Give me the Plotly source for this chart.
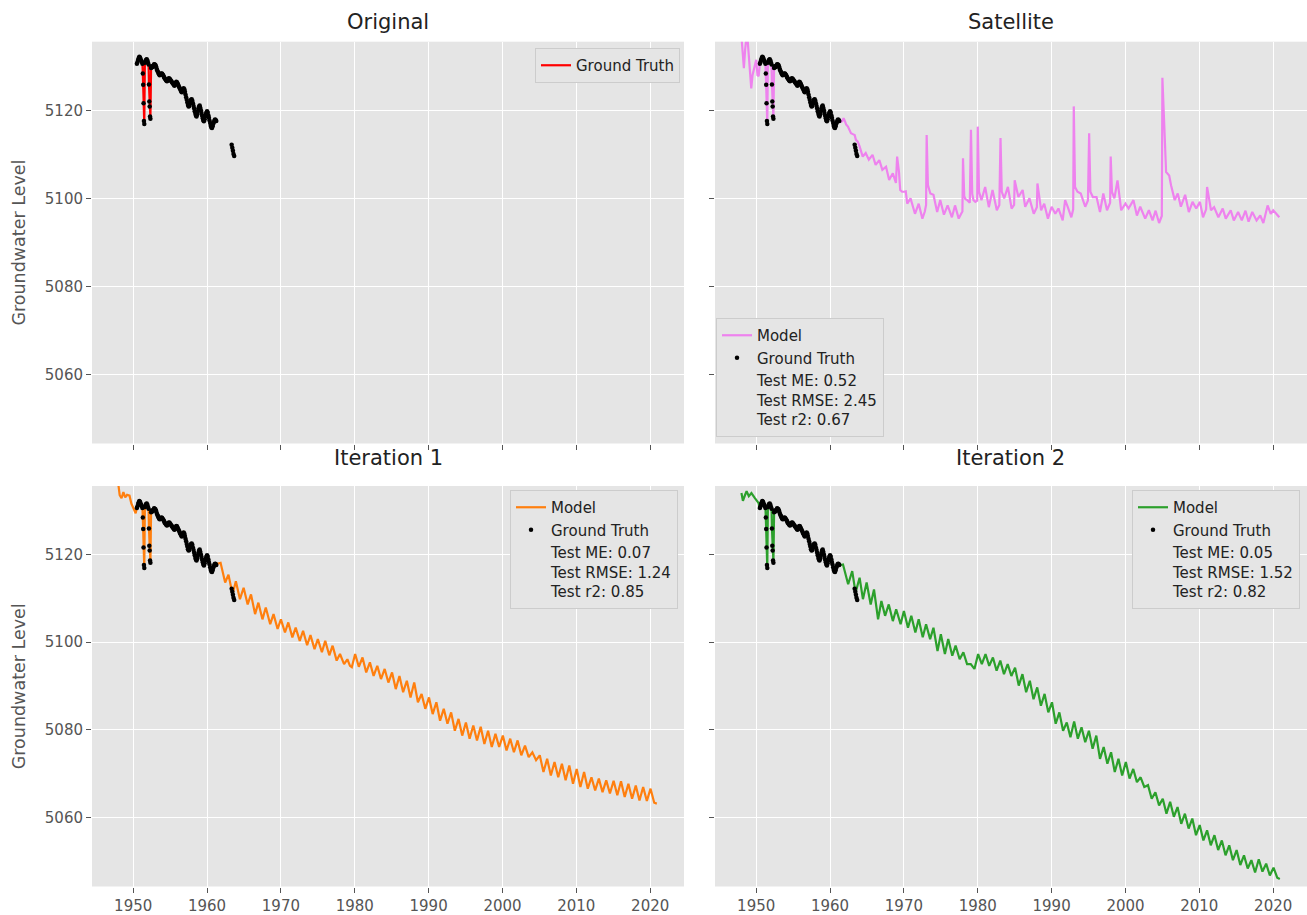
import plotly.graph_objects as go

# ---------------------------------------------------------------
# Ground-truth well readings (decimal year, groundwater level)
# ---------------------------------------------------------------
gt_years = [
    1950.50, 1950.58, 1950.67, 1950.75, 1950.83, 1950.92, 1951.00, 1951.08,
    1951.17, 1951.25, 1951.30, 1951.35, 1951.40, 1951.45, 1951.50, 1951.58,
    1951.67, 1951.75, 1951.83, 1951.92, 1952.00, 1952.08, 1952.13, 1952.18,
    1952.23, 1952.28, 1952.33, 1952.42, 1952.50, 1952.58, 1952.67, 1952.75,
    1952.83, 1952.92,
    1953.00, 1953.08, 1953.17, 1953.25, 1953.33, 1953.42, 1953.50, 1953.58,
    1953.67, 1953.75, 1953.83, 1953.92,
    1954.00, 1954.08, 1954.17, 1954.25, 1954.33, 1954.42, 1954.50, 1954.58,
    1954.67, 1954.75, 1954.83, 1954.92,
    1955.00, 1955.08, 1955.17, 1955.25, 1955.33, 1955.42, 1955.50, 1955.58,
    1955.67, 1955.75, 1955.83, 1955.92,
    1956.00, 1956.08, 1956.17, 1956.25, 1956.33, 1956.42, 1956.50, 1956.58,
    1956.67, 1956.75, 1956.83, 1956.92,
    1957.00, 1957.08, 1957.17, 1957.25, 1957.33, 1957.42, 1957.50, 1957.58,
    1957.67, 1957.75, 1957.83, 1957.92,
    1958.00, 1958.08, 1958.17, 1958.25, 1958.33, 1958.42, 1958.50, 1958.58,
    1958.67, 1958.75, 1958.83, 1958.92,
    1959.00, 1959.08, 1959.17, 1959.25, 1959.33, 1959.42, 1959.50, 1959.58,
    1959.67, 1959.75, 1959.83, 1959.92,
    1960.00, 1960.08, 1960.17, 1960.25, 1960.33, 1960.42, 1960.50, 1960.58,
    1960.67, 1960.75, 1960.83, 1960.92,
    1961.00, 1961.08, 1961.17, 1961.25,
]
gt_levels = [
    5130.6, 5131.0, 5131.5, 5131.9, 5132.2, 5132.0, 5131.6, 5131.3,
    5131.0, 5130.6, 5128.4, 5125.8, 5121.6, 5117.6, 5116.9, 5130.8,
    5131.2, 5131.5, 5131.6, 5131.3, 5130.8, 5130.4, 5125.9, 5122.0,
    5120.9, 5118.6, 5118.1, 5129.6, 5130.0, 5129.8, 5129.9, 5130.2,
    5130.5, 5130.4,
    5130.3, 5130.0, 5129.5, 5129.1, 5128.8, 5128.5, 5128.2, 5128.0,
    5128.1, 5128.3, 5128.4, 5128.3,
    5128.1, 5127.9, 5127.6, 5127.3, 5127.1, 5126.9, 5126.7, 5126.6,
    5126.8, 5127.1, 5127.3, 5127.2,
    5127.0, 5126.8, 5126.6, 5126.4, 5126.2, 5126.0, 5125.8, 5125.6,
    5125.8, 5126.2, 5126.5, 5126.4,
    5126.1, 5125.8, 5125.5, 5125.2, 5124.9, 5124.6, 5124.3, 5124.1,
    5124.4, 5124.8, 5125.0, 5124.8,
    5124.2, 5123.6, 5123.0, 5122.4, 5121.8, 5121.2, 5120.9, 5121.0,
    5121.5, 5122.0, 5122.4, 5122.5,
    5122.2, 5121.6, 5121.0, 5120.4, 5119.8, 5119.2, 5118.8, 5118.6,
    5119.1, 5119.8, 5120.4, 5120.9,
    5121.1, 5120.6, 5120.0, 5119.4, 5118.8, 5118.2, 5117.7, 5117.5,
    5118.0, 5118.6, 5119.1, 5119.5,
    5119.8, 5119.5, 5118.9, 5118.3, 5117.7, 5117.1, 5116.5, 5116.1,
    5116.0, 5116.4, 5116.9, 5117.3,
    5117.7, 5117.9, 5117.8, 5117.6,
]
# short later run of readings after a gap
gt_late_years = [1963.33, 1963.42, 1963.50, 1963.58, 1963.67]
gt_late_levels = [5112.2, 5111.5, 5110.8, 5110.1, 5109.6]

# ---------------------------------------------------------------
# Model predictions outside the ground-truth period
# ---------------------------------------------------------------
sat_pre_years = [1948.00, 1948.17, 1948.33, 1948.50, 1948.67, 1948.83, 1949.00,
                 1949.17, 1949.33, 1949.50, 1949.67, 1949.83, 1950.00, 1950.17,
                 1950.33]
sat_pre_levels = [5136.8, 5132.2, 5129.6, 5133.8, 5136.5, 5136.2, 5131.5,
                  5127.0, 5125.0, 5128.0, 5129.2, 5131.0, 5131.5, 5128.0,
                  5127.8]
sat_post_years = [
    1961.33, 1961.50, 1961.67, 1961.83, 1962.00, 1962.17, 1962.42, 1962.58,
    1962.83, 1963.08, 1963.33, 1963.50, 1963.75, 1964.00, 1964.42, 1964.83,
    1965.25, 1965.75, 1966.17, 1966.67, 1967.08, 1967.58, 1968.00, 1968.50,
    1968.92, 1969.08, 1969.33, 1969.50, 1969.75, 1970.00, 1970.25, 1970.45,
    1970.90, 1971.50, 1972.00, 1972.50, 1972.83, 1973.00, 1973.08, 1973.25,
    1973.58, 1974.00, 1974.50, 1974.92, 1975.42, 1975.92, 1976.50, 1976.92,
    1977.42, 1977.75, 1977.92, 1978.00, 1978.17, 1978.33, 1978.58, 1978.92,
    1979.08, 1979.25, 1979.42, 1979.67, 1979.92, 1980.00, 1980.17, 1980.50,
    1981.00, 1981.50, 1982.00, 1982.58, 1982.92, 1983.08, 1983.25, 1983.58,
    1984.08, 1984.58, 1984.92, 1985.00, 1985.50, 1986.08, 1986.42, 1987.00,
    1987.58, 1988.00, 1988.08, 1988.58, 1989.00, 1989.50, 1990.00, 1990.50,
    1990.92, 1991.50, 1991.83, 1992.17, 1992.67, 1992.92, 1993.00, 1993.17,
    1993.50, 1993.95, 1994.55, 1994.92, 1995.08, 1995.25, 1995.58, 1996.08,
    1996.55, 1997.00, 1997.50, 1997.92, 1998.00, 1998.17, 1998.50, 1998.92,
    1999.42, 2000.00, 2000.42, 2001.08, 2001.55, 2002.00, 2002.67, 2003.17,
    2003.67, 2004.08, 2004.55, 2004.92, 2005.00, 2005.50, 2005.92, 2006.17,
    2006.67, 2007.08, 2007.50, 2008.08, 2008.58, 2009.08, 2009.58, 2010.08,
    2010.50, 2010.92, 2011.05, 2011.58, 2012.00, 2012.58, 2013.17, 2013.58,
    2014.25, 2014.67, 2015.25, 2015.75, 2016.25, 2016.67, 2017.17, 2017.75,
    2018.25, 2018.67, 2019.25, 2019.67, 2020.00, 2020.42, 2020.83,
]
sat_post_levels = [
    5117.8, 5117.4, 5117.6, 5118.2, 5117.6, 5116.8, 5116.3, 5115.6,
    5114.8, 5114.6, 5114.4, 5113.3, 5112.9, 5111.8, 5109.5, 5110.3,
    5108.8, 5109.9, 5107.6, 5108.7, 5106.5, 5107.2, 5104.2, 5105.7,
    5103.5, 5109.5, 5106.0, 5101.9, 5101.5, 5101.5, 5101.6, 5098.8,
    5100.0, 5096.5, 5098.8, 5095.4, 5097.0, 5098.5, 5114.4, 5103.0,
    5101.1, 5100.8, 5096.9, 5099.6, 5096.3, 5098.4, 5095.7, 5098.4,
    5095.4, 5096.5, 5097.0, 5109.1, 5100.5, 5099.8, 5099.6, 5099.0,
    5115.6, 5101.0, 5099.6, 5099.2, 5099.5, 5116.3, 5101.5, 5099.6,
    5102.6, 5098.0, 5101.9, 5097.3, 5098.5, 5113.7, 5101.5, 5100.0,
    5102.6, 5097.7, 5098.5, 5104.1, 5100.3, 5101.9, 5098.1, 5100.0,
    5096.5, 5098.0, 5103.4, 5097.3, 5098.8, 5095.4, 5098.1, 5096.5,
    5097.7, 5095.0, 5099.6, 5098.1, 5095.7, 5097.5, 5120.9, 5102.6,
    5101.5, 5101.1, 5098.1, 5099.5, 5114.8, 5101.5, 5100.3, 5100.3,
    5096.9, 5101.1, 5097.3, 5099.0, 5109.5, 5101.5, 5100.0, 5104.1,
    5097.3, 5098.8, 5097.7, 5099.6, 5096.1, 5098.1, 5095.4, 5097.3,
    5095.0, 5097.2, 5094.4, 5096.0, 5127.4, 5106.0, 5105.2, 5103.0,
    5099.6, 5101.1, 5098.1, 5100.8, 5096.9, 5099.2, 5097.7, 5099.2,
    5095.7, 5097.5, 5102.6, 5097.3, 5098.0, 5095.7, 5097.7, 5095.4,
    5097.3, 5095.0, 5096.9, 5095.0, 5097.2, 5094.7, 5096.9, 5095.0,
    5096.1, 5094.4, 5098.4, 5096.5, 5097.3, 5096.5, 5095.7,
]

it1_pre_years = [1948.00, 1948.17, 1948.42, 1948.67, 1948.92, 1949.17, 1949.50,
                 1949.75, 1950.17, 1950.33]
it1_pre_levels = [5135.8, 5133.5, 5132.8, 5134.2, 5133.0, 5133.6, 5133.4,
                  5131.6, 5130.0, 5129.4]
it1_post_years = [
    1961.42, 1961.83, 1962.45, 1962.90, 1963.45, 1963.90, 1964.45, 1964.95,
    1965.50, 1965.95, 1966.50, 1966.95, 1967.50, 1967.95, 1968.55, 1969.00,
    1969.55, 1970.00, 1970.55, 1971.00, 1971.55, 1972.00, 1972.55, 1973.00,
    1973.55, 1974.00, 1974.55, 1975.00, 1975.55, 1976.00, 1976.55, 1977.00,
    1977.55, 1978.00, 1978.55, 1979.00, 1979.35, 1979.60, 1980.05, 1980.55,
    1981.05, 1981.55, 1982.05, 1982.55, 1983.05, 1983.55, 1984.05, 1984.55,
    1985.05, 1985.55, 1986.05, 1986.55, 1987.05, 1987.55, 1988.05, 1988.55,
    1989.05, 1989.55, 1990.05, 1990.55, 1991.05, 1991.55, 1992.05, 1992.55,
    1993.05, 1993.55, 1994.05, 1994.55, 1995.05, 1995.55, 1996.05, 1996.55,
    1997.05, 1997.55, 1998.05, 1998.55, 1999.05, 1999.55, 2000.05, 2000.55,
    2001.05, 2001.55, 2002.05, 2002.55, 2003.05, 2003.55, 2004.05, 2004.55,
    2005.05, 2005.55, 2006.05, 2006.55, 2007.05, 2007.55, 2008.05, 2008.55,
    2009.05, 2009.55, 2010.05, 2010.55, 2011.05, 2011.55, 2012.05, 2012.55,
    2013.05, 2013.55, 2014.05, 2014.55, 2015.05, 2015.55, 2016.05, 2016.55,
    2017.05, 2017.55, 2018.05, 2018.55, 2019.05, 2019.55, 2020.05, 2020.55,
    2020.90,
]
it1_post_levels = [
    5117.9, 5118.1, 5113.6, 5115.4, 5110.9, 5113.9, 5109.8, 5112.4,
    5108.6, 5110.9, 5106.4, 5109.0, 5105.2, 5107.9, 5104.1, 5106.4,
    5103.0, 5105.2, 5102.2, 5104.5, 5101.1, 5103.3, 5100.3, 5102.6,
    5099.3, 5101.6, 5098.4, 5100.7, 5097.7, 5100.3, 5097.0, 5099.2,
    5095.8, 5097.3, 5095.0, 5096.1, 5094.6, 5094.3, 5097.3, 5094.4,
    5096.5, 5093.1, 5095.4, 5092.3, 5094.6, 5091.6, 5093.9, 5090.8,
    5093.1, 5089.3, 5092.3, 5088.6, 5091.2, 5087.4, 5090.8, 5086.3,
    5088.2, 5084.8, 5087.4, 5083.6, 5086.3, 5082.1, 5084.8, 5081.4,
    5084.0, 5079.8, 5082.5, 5078.7, 5081.7, 5078.0, 5081.0, 5077.6,
    5080.7, 5076.8, 5079.8, 5076.1, 5079.1, 5076.1, 5078.7, 5075.3,
    5078.0, 5074.9, 5077.6, 5074.2, 5076.4, 5073.8, 5074.9, 5073.1,
    5074.2, 5070.4, 5073.4, 5069.6, 5072.7, 5069.2, 5072.3, 5068.5,
    5071.9, 5067.7, 5071.1, 5067.0, 5070.4, 5066.6, 5069.2, 5066.2,
    5068.9, 5065.8, 5068.5, 5065.5, 5068.4, 5065.1, 5068.3, 5064.7,
    5067.7, 5064.3, 5067.3, 5063.9, 5067.0, 5063.8, 5066.6, 5063.4,
    5063.2,
]

it2_pre_years = [1948.00, 1948.20, 1948.50, 1948.70, 1949.00, 1949.35, 1949.80,
                 1950.17, 1950.33]
it2_pre_levels = [5134.0, 5132.2, 5133.6, 5134.4, 5133.3, 5134.0, 5132.9,
                  5131.9, 5131.7]
it2_post_years = [
    1961.42, 1961.75, 1962.45, 1963.00, 1963.45, 1964.00, 1964.45, 1964.95,
    1965.50, 1965.95, 1966.50, 1966.95, 1967.45, 1967.95, 1968.50, 1968.95,
    1969.55, 1970.00, 1970.55, 1971.00, 1971.55, 1972.00, 1972.55, 1973.00,
    1973.55, 1974.00, 1974.55, 1975.00, 1975.55, 1976.00, 1976.55, 1977.00,
    1977.55, 1978.05, 1978.55, 1979.05, 1979.55, 1980.05, 1980.55, 1981.05,
    1981.55, 1982.05, 1982.55, 1983.05, 1983.55, 1984.05, 1984.55, 1985.05,
    1985.55, 1986.05, 1986.55, 1987.05, 1987.55, 1988.05, 1988.55, 1989.05,
    1989.55, 1990.05, 1990.55, 1991.05, 1991.55, 1992.05, 1992.55, 1993.05,
    1993.55, 1994.05, 1994.55, 1995.05, 1995.55, 1996.05, 1996.55, 1997.05,
    1997.55, 1998.05, 1998.55, 1999.05, 1999.55, 2000.05, 2000.55, 2001.05,
    2001.55, 2002.05, 2002.55, 2003.05, 2003.55, 2004.05, 2004.55, 2005.05,
    2005.55, 2006.05, 2006.55, 2007.05, 2007.55, 2008.05, 2008.55, 2009.05,
    2009.55, 2010.05, 2010.55, 2011.05, 2011.55, 2012.05, 2012.55, 2013.05,
    2013.55, 2014.05, 2014.55, 2015.05, 2015.55, 2016.05, 2016.55, 2017.05,
    2017.55, 2018.05, 2018.55, 2019.05, 2019.55, 2020.05, 2020.55, 2020.90,
]
it2_post_levels = [
    5117.6, 5117.7, 5113.2, 5116.2, 5111.3, 5114.7, 5109.8, 5113.6,
    5108.6, 5112.0, 5105.2, 5109.4, 5106.0, 5108.6, 5104.8, 5107.5,
    5104.1, 5107.1, 5103.3, 5106.0, 5102.2, 5105.2, 5101.1, 5104.1,
    5100.7, 5103.3, 5098.0, 5101.8, 5097.3, 5100.7, 5096.9, 5099.2,
    5096.1, 5097.7, 5095.0, 5095.0, 5093.9, 5097.3, 5095.0, 5097.3,
    5094.6, 5096.5, 5093.5, 5095.8, 5092.7, 5095.0, 5092.3, 5094.2,
    5090.1, 5092.7, 5088.6, 5091.2, 5087.0, 5089.7, 5085.5, 5088.2,
    5084.0, 5086.3, 5081.4, 5084.0, 5079.8, 5081.7, 5078.3, 5081.9,
    5078.0, 5080.6, 5077.2, 5079.8, 5075.7, 5078.7, 5073.4, 5076.1,
    5072.3, 5074.9, 5070.4, 5073.4, 5069.6, 5072.7, 5068.9, 5071.1,
    5068.1, 5069.2, 5067.0, 5067.4, 5064.3, 5065.8, 5062.8, 5064.3,
    5060.9, 5063.6, 5060.2, 5062.4, 5058.6, 5060.9, 5057.5, 5059.8,
    5056.0, 5058.3, 5054.8, 5057.1, 5053.7, 5056.0, 5052.6, 5054.8,
    5051.4, 5053.7, 5050.3, 5052.6, 5049.2, 5051.4, 5048.4, 5050.3,
    5047.5, 5050.5, 5047.7, 5049.5, 5046.8, 5048.6, 5046.3, 5046.0,
]

# test-period scores: ME, RMSE, r2
sat_metrics = [0.52, 2.45, 0.67]
it1_metrics = [0.07, 1.24, 0.85]
it2_metrics = [0.05, 1.52, 0.82]

panel_titles = ["Original", "Satellite", "Iteration 1", "Iteration 2"]
year_ticks = [1950, 1960, 1970, 1980, 1990, 2000, 2010, 2020]
level_ticks = [5060, 5080, 5100, 5120]

# ---------------------------------------------------------------
# Figure
# ---------------------------------------------------------------
W, H = 1307, 915
FONT = "DejaVu Sans"
BG = "#E5E5E5"
TICK_GRAY = "#555555"


def px_x(p):
    return p / W


def px_y(p):
    return 1 - p / H


x_left = [px_x(92), px_x(684)]
x_right = [px_x(715), px_x(1307)]
y_top = [px_y(443.5), px_y(41.7)]
y_bot = [px_y(886.5), px_y(486.0)]

fig = go.Figure()

gt_x = gt_years + [None] + gt_late_years
gt_y = gt_levels + [None] + gt_late_levels


def series(pre_x, pre_y, post_x, post_y):
    return pre_x + gt_years + post_x, pre_y + gt_levels + post_y


def metrics_label(m):
    return (f"Test ME: {m[0]:.2f}<br>Test RMSE: {m[1]:.2f}<br>"
            f"Test r2: {m[2]:.2f}")


def add_gt_markers(axis_x, axis_y, legend, show):
    fig.add_trace(go.Scatter(
        x=gt_x, y=gt_y, mode="markers", name="Ground Truth",
        marker=dict(color="black", size=4.5, symbol="circle"),
        xaxis=axis_x, yaxis=axis_y, legend=legend, showlegend=show))


# Original panel: ground truth only
fig.add_trace(go.Scatter(
    x=gt_x, y=gt_y, mode="lines", name="Ground Truth",
    line=dict(color="red", width=2.2), xaxis="x", yaxis="y",
    legend="legend", connectgaps=False))
add_gt_markers("x", "y", "legend", False)

panels = [
    ("x2", "y2", "legend2", "violet", sat_pre_years, sat_pre_levels,
     sat_post_years, sat_post_levels, sat_metrics),
    ("x3", "y3", "legend3", "#FF7F0E", it1_pre_years, it1_pre_levels,
     it1_post_years, it1_post_levels, it1_metrics),
    ("x4", "y4", "legend4", "#2CA02C", it2_pre_years, it2_pre_levels,
     it2_post_years, it2_post_levels, it2_metrics),
]
for ax, ay, lg, color, prx, pry, pox, poy, m in panels:
    mx, my = series(prx, pry, pox, poy)
    fig.add_trace(go.Scatter(
        x=mx, y=my, mode="lines", name="Model",
        line=dict(color=color, width=2.2), xaxis=ax, yaxis=ay, legend=lg))
    add_gt_markers(ax, ay, lg, True)
    fig.add_trace(go.Scatter(
        x=[None], y=[None], mode="markers", name=metrics_label(m),
        marker=dict(color="rgba(0,0,0,0)", size=1),
        xaxis=ax, yaxis=ay, legend=lg))

x_common = dict(range=[1944.42, 2024.58], tickvals=year_ticks,
                showgrid=True, gridcolor="white", gridwidth=1.3,
                zeroline=False, showline=False, ticks="outside", ticklen=5,
                tickwidth=1, tickcolor=TICK_GRAY,
                tickfont=dict(family=FONT, size=15, color=TICK_GRAY))
y_common = dict(range=[5044.3, 5135.6], tickvals=level_ticks,
                showgrid=True, gridcolor="white", gridwidth=1.3,
                zeroline=False, showline=False, ticks="outside", ticklen=5,
                tickwidth=1, tickcolor=TICK_GRAY,
                tickfont=dict(family=FONT, size=15, color=TICK_GRAY))

fig.update_layout(
    width=W, height=H, margin=dict(l=0, r=0, t=0, b=0),
    paper_bgcolor="white", plot_bgcolor=BG,
    font=dict(family=FONT, color="black"),
    xaxis=dict(domain=x_left, anchor="y", showticklabels=False, **x_common),
    yaxis=dict(domain=y_top, anchor="x", showticklabels=True, **y_common),
    xaxis2=dict(domain=x_right, anchor="y2", showticklabels=False, **x_common),
    yaxis2=dict(domain=y_top, anchor="x2", showticklabels=False, **y_common),
    xaxis3=dict(domain=x_left, anchor="y3", showticklabels=True, **x_common),
    yaxis3=dict(domain=y_bot, anchor="x3", showticklabels=True, **y_common),
    xaxis4=dict(domain=x_right, anchor="y4", showticklabels=True, **x_common),
    yaxis4=dict(domain=y_bot, anchor="x4", showticklabels=False, **y_common),
)

legend_style = dict(bgcolor=BG, bordercolor="#CCCCCC", borderwidth=1,
                    font=dict(family=FONT, size=15, color="#222222"),
                    itemwidth=30)
fig.update_layout(
    legend=dict(x=px_x(680), y=px_y(48), xanchor="right", yanchor="top",
                **legend_style),
    legend2=dict(x=px_x(716), y=px_y(437), xanchor="left", yanchor="bottom",
                 **legend_style),
    legend3=dict(x=px_x(678), y=px_y(490), xanchor="right", yanchor="top",
                 **legend_style),
    legend4=dict(x=px_x(1300), y=px_y(490), xanchor="right", yanchor="top",
                 **legend_style),
)

# panel titles
title_pos = [((x_left[0] + x_left[1]) / 2, px_y(22)),
             ((x_right[0] + x_right[1]) / 2, px_y(22)),
             ((x_left[0] + x_left[1]) / 2, px_y(458)),
             ((x_right[0] + x_right[1]) / 2, px_y(458))]
for text, (tx, ty) in zip(panel_titles, title_pos):
    fig.add_annotation(x=tx, y=ty, xref="paper", yref="paper", text=text,
                       showarrow=False, xanchor="center", yanchor="middle",
                       font=dict(family=FONT, size=21, color="#222222"))

# shared y-axis label on the left column
for yd in (y_top, y_bot):
    fig.add_annotation(x=px_x(19), y=(yd[0] + yd[1]) / 2, xref="paper",
                       yref="paper", text="Groundwater Level", textangle=-90,
                       showarrow=False, xanchor="center", yanchor="middle",
                       font=dict(family=FONT, size=17.5, color=TICK_GRAY))

fig.write_html("out.html")
